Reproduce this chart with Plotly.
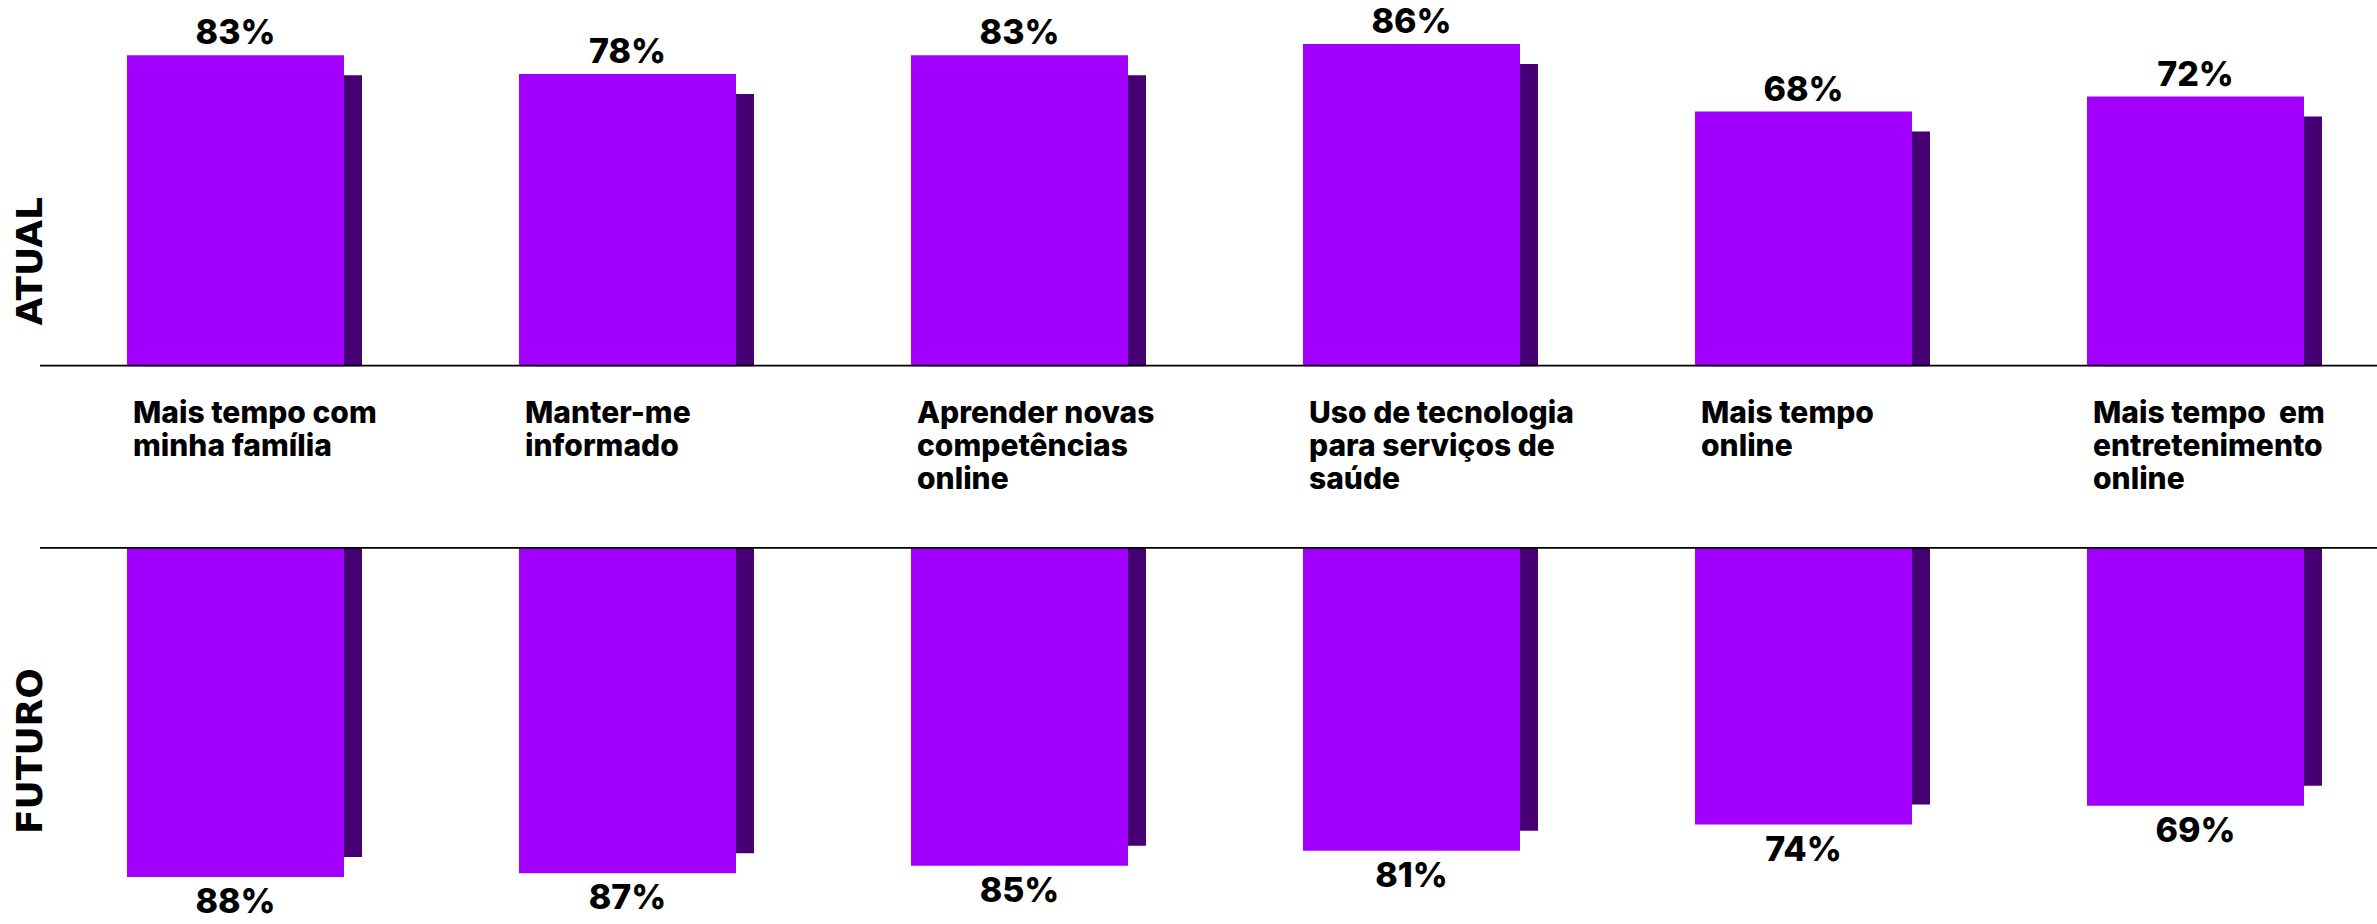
import plotly.graph_objects as go

# Survey items and shares (%)
categories = [
    "Mais tempo com<br>minha família",
    "Manter-me<br>informado",
    "Aprender novas<br>competências<br>online",
    "Uso de tecnologia<br>para serviços de<br>saúde",
    "Mais tempo<br>online",
    "Mais tempo\u00a0 em<br>entretenimento<br>online",
]
atual = [83, 78, 83, 86, 68, 72]
futuro = [88, 87, 85, 81, 74, 69]

W, H = 2377, 924
PURPLE = "#A100FF"
DARK = "#460073"
FONT = "Inter, Roboto, Arial, sans-serif"
HEAVY = "DejaVu Sans, Inter, Arial, sans-serif"

# horizontal geometry (pixels)
first_center = 235.5
step = 392.0
bar_px = 217.0
shadow_dx_px = 18.0
shadow_dy_px = 20.0

x0 = -first_center / step
x1 = x0 + W / step
bar_w = bar_px / step
sdx = shadow_dx_px / step

# vertical geometry (pixels)
top_base = 366.5      # baseline of the upper panel
bot_base = 547.0      # baseline of the lower panel
px_per_pct = 3.75

xs = list(range(len(categories)))
ys_top_range = top_base / px_per_pct
ys_bot_range = (H - bot_base) / px_per_pct
sdy = shadow_dy_px / px_per_pct

fig = go.Figure()

value_font = dict(family=FONT, size=34, color="black", weight=800)

# upper panel: shadow then main bars
fig.add_trace(go.Bar(
    x=[x + sdx for x in xs], y=[max(v - sdy, 0) for v in atual], width=bar_w,
    marker=dict(color=DARK, line=dict(width=0)), xaxis="x", yaxis="y",
    hoverinfo="skip", showlegend=False,
))
fig.add_trace(go.Bar(
    x=xs, y=atual, width=bar_w,
    marker=dict(color=PURPLE, line=dict(width=0)), xaxis="x", yaxis="y",
    text=[f"{v}%" for v in atual], textposition="outside", cliponaxis=False,
    textfont=value_font, showlegend=False,
))

# lower panel (axis reversed, bars hang downward)
fig.add_trace(go.Bar(
    x=[x + sdx for x in xs], y=[max(v - sdy, 0) for v in futuro], width=bar_w,
    marker=dict(color=DARK, line=dict(width=0)), xaxis="x2", yaxis="y2",
    hoverinfo="skip", showlegend=False,
))
fig.add_trace(go.Bar(
    x=xs, y=futuro, width=bar_w,
    marker=dict(color=PURPLE, line=dict(width=0)), xaxis="x2", yaxis="y2",
    text=[f"{v}%" for v in futuro], textposition="outside", cliponaxis=False,
    textfont=value_font, showlegend=False,
))

hidden = dict(visible=False, showgrid=False, zeroline=False, fixedrange=True)

fig.update_layout(
    width=W, height=H,
    margin=dict(l=0, r=0, t=0, b=0),
    paper_bgcolor="white", plot_bgcolor="white",
    barmode="overlay",
    xaxis=dict(hidden, domain=[0, 1], range=[x0, x1]),
    xaxis2=dict(hidden, domain=[0, 1], range=[x0, x1], anchor="y2"),
    yaxis=dict(hidden, domain=[1 - top_base / H, 1], range=[0, ys_top_range]),
    yaxis2=dict(hidden, domain=[0, (H - bot_base) / H], range=[ys_bot_range, 0], anchor="x2"),
    font=dict(family=FONT, color="black"),
)

# baselines
line_start = 40 / W
for yref in ("y", "y2"):
    fig.add_shape(type="line", xref="paper", yref=yref, x0=line_start, x1=1, y0=0, y1=0,
                  line=dict(color="black", width=3.5))

# category labels between the panels, one annotation per line for tight leading
line_gap = 33
for x, label in zip(xs, categories):
    for k, part in enumerate(label.split("<br>")):
        fig.add_annotation(
            x=x - bar_w / 2, y=1 - 392 / H, xref="x", yref="paper",
            xanchor="left", yanchor="top", xshift=4, yshift=-k * line_gap,
            align="left", text=part, showarrow=False,
            font=dict(family=FONT, size=30, color="black", weight=800),
        )

# panel titles
title_font = dict(family=HEAVY, size=36, color="black", weight=700)
fig.add_annotation(x=29 / W, y=1 - 261.5 / H, xref="paper", yref="paper",
                   xanchor="center", yanchor="middle",
                   text="ATUAL", textangle=-90, showarrow=False, font=title_font)
fig.add_annotation(x=29 / W, y=1 - 751 / H, xref="paper", yref="paper",
                   xanchor="center", yanchor="middle",
                   text="FUTURO", textangle=-90, showarrow=False, font=title_font)

fig.write_html("out.html")
